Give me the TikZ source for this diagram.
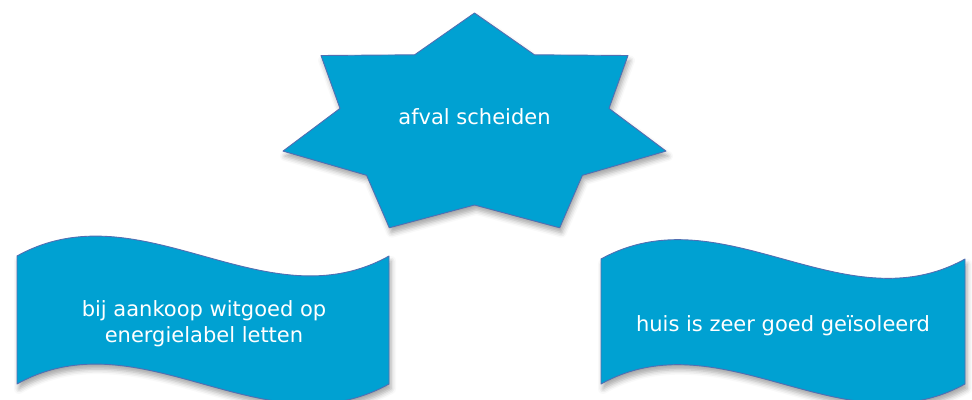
\documentclass[tikz,border=0pt]{standalone}
\usepackage{fontspec}
\setmainfont{DejaVu Sans}
\usetikzlibrary{shadows.blur}
\definecolor{shapefill}{RGB}{0,161,210}
\definecolor{shapeline}{RGB}{82,110,178}
\begin{document}
\begin{tikzpicture}[x=1pt,y=-1pt,
  shapestyle/.style={fill=shapefill,draw=shapeline,line width=0.9pt,line join=round,
    blur shadow={shadow xshift=2pt,shadow yshift=-5pt,shadow blur radius=5pt,shadow opacity=35}},
  label/.style={text=white,font=\fontsize{21}{26}\selectfont,inner sep=0pt}]
\useasboundingbox (0,0) rectangle (972,399);
% star
\path[shapestyle] (474.5,13) -- (534.4,54.8) -- (628.0,55.5) -- (609.0,108.4) -- (666.0,151.1)
  -- (582.4,175.3) -- (559.7,227.8) -- (474.5,205) -- (389.3,227.8) -- (366.6,175.3)
  -- (283.0,151.1) -- (340.0,108.4) -- (321.0,55.5) -- (414.6,54.8) -- cycle;
\node[label,anchor=base] (star) at (474.5,124) {afval scheiden};
% left wave
\path[shapestyle] (17,256) .. controls (141,187) and (265,325) .. (389,256)
  -- (389,384) .. controls (265,453) and (141,315) .. (17,384) -- cycle;
\node[label,anchor=base] (leftwave) at (204,316)
  {\vtop{\halign{\hfil#\hfil\cr bij aankoop witgoed op\cr energielabel letten\cr}}};
% right wave
\path[shapestyle] (601,259) .. controls (722,192) and (844,326) .. (965,259)
  -- (965,384) .. controls (844,451) and (722,317) .. (601,384) -- cycle;
\node[label,anchor=base] (rightwave) at (783,331) {huis is zeer goed geïsoleerd};
\end{tikzpicture}
\end{document}
